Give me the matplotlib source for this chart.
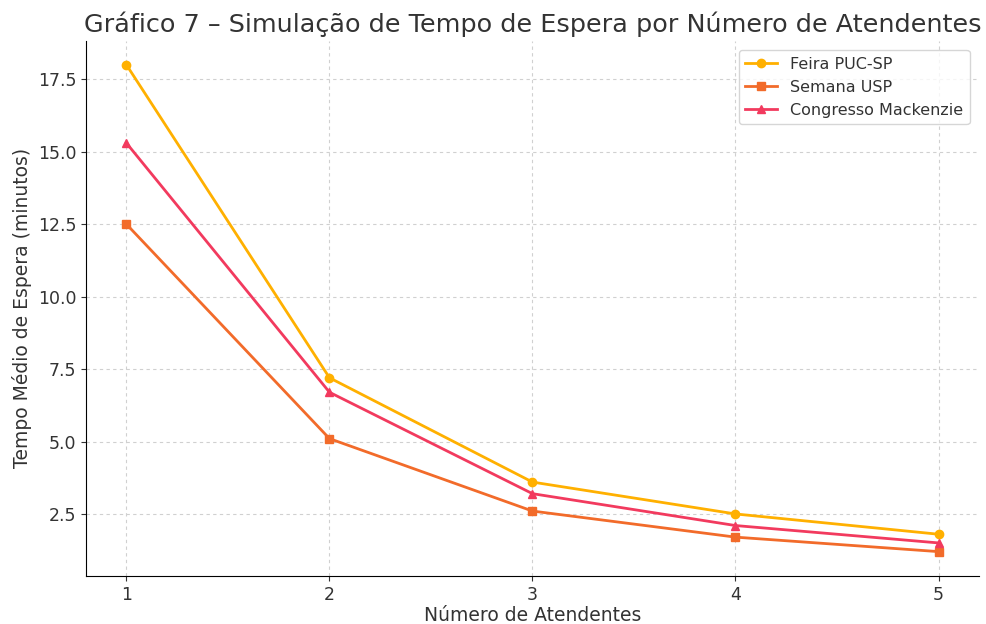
import matplotlib
matplotlib.use("Agg")
import matplotlib.pyplot as plt

# Dados do gráfico
atendentes = [1, 2, 3, 4, 5]
feira_puc = [18.0, 7.2, 3.6, 2.5, 1.8]
semana_usp = [12.5, 5.1, 2.6, 1.7, 1.2]
congresso_mack = [15.3, 6.7, 3.2, 2.1, 1.5]

plt.rcParams['text.color'] = '#333333'
plt.rcParams['axes.labelcolor'] = '#333333'
plt.rcParams['xtick.color'] = '#333333'
plt.rcParams['ytick.color'] = '#333333'

fig, ax = plt.subplots(figsize=(9.87, 6.24), dpi=100)

ax.plot(atendentes, feira_puc, marker='o', color='#FFB000', linewidth=2, markersize=6, label='Feira PUC-SP')
ax.plot(atendentes, semana_usp, marker='s', color='#F26B2A', linewidth=2, markersize=6, label='Semana USP')
ax.plot(atendentes, congresso_mack, marker='^', color='#F23A5E', linewidth=2, markersize=6, label='Congresso Mackenzie')

ax.set_title('Gráfico 7 – Simulação de Tempo de Espera por Número de Atendentes', fontsize=18.35)
ax.set_xlabel('Número de Atendentes', fontsize=13.5, labelpad=2)
ax.set_ylabel('Tempo Médio de Espera (minutos)', fontsize=13.5)
ax.set_xticks(atendentes)
ax.tick_params(labelsize=12.5)
ax.grid(True, linestyle=(0, (3, 3)), color='#d0d0d0', linewidth=0.8)
ax.spines['top'].set_visible(False)
ax.spines['right'].set_visible(False)
ax.legend(fontsize=11.5, borderaxespad=0.6)

plt.subplots_adjust(left=0.087, right=0.992, top=0.935, bottom=0.077)
plt.savefig('out.png')
